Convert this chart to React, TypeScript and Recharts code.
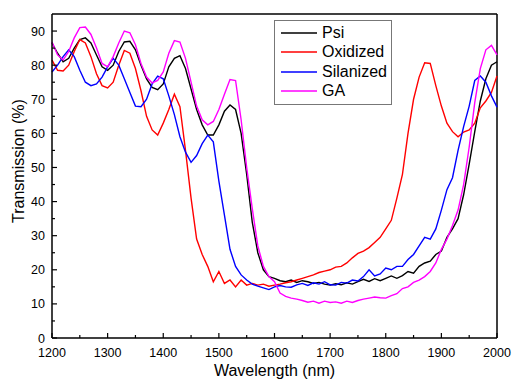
import React from "react";
import {
  LineChart,
  Line,
  XAxis,
  YAxis,
  Legend,
  ReferenceLine,
} from "recharts";

const wavelengths = [
  1200, 1210, 1220, 1230, 1240, 1250, 1260, 1270, 1280, 1290, 1300, 1310,
  1320, 1330, 1340, 1350, 1360, 1370, 1380, 1390, 1400, 1410, 1420, 1430,
  1440, 1450, 1460, 1470, 1480, 1490, 1500, 1510, 1520, 1530, 1540, 1550,
  1560, 1570, 1580, 1590, 1600, 1610, 1620, 1630, 1640, 1650, 1660, 1670,
  1680, 1690, 1700, 1710, 1720, 1730, 1740, 1750, 1760, 1770, 1780, 1790,
  1800, 1810, 1820, 1830, 1840, 1850, 1860, 1870, 1880, 1890, 1900, 1910,
  1920, 1930, 1940, 1950, 1960, 1970, 1980, 1990, 2000,
];

const psi = [
  86.5, 83.5, 81, 82, 85, 87.5, 88, 86.5, 83, 79.5, 78.5, 80,
  84, 86.8, 87, 84.5, 80, 76, 73.5, 72.8, 74.5, 79.5, 82, 82.8,
  79, 73, 67, 62.5, 59.5, 59.5, 62.5, 66.5, 68.3, 67, 60, 48,
  34, 25, 20, 18, 17.5, 16.8, 16.5, 17, 16.3, 16.8, 16.5, 16,
  16.3, 15.8, 15.5, 15.9, 15.6, 16.2, 15.8, 16.5, 17.2, 16.6, 17.4, 16.8,
  17.5, 18.2, 17.5, 18.3, 19.5, 19, 21, 22, 22.5, 24.5, 25.5, 29.5,
  32, 35, 42, 51, 60.5, 69.5, 76, 80, 81,
];

const oxidized = [
  81.5, 78.5, 78.3, 80, 84, 87.5, 86.5, 82.5, 77.5, 74, 73.3, 75,
  80, 84.3, 83.5, 79, 72.5, 65, 61, 59.5, 63, 67, 71.5, 67.8,
  55, 41, 29, 24.5, 21, 16.5, 19.5, 16, 17, 15, 17, 15.5,
  16, 15.5, 15.8, 15.2, 15.5, 15.8, 16.2, 16.5, 17, 17.5, 18, 18.5,
  19.2, 19.6, 20, 20.8, 21, 22, 23.5, 24.8, 25.5, 26.5, 28, 29.5,
  32, 34.5, 41, 48, 60, 70, 76.5, 80.7, 80.5, 74, 68, 63,
  60.5, 59, 60.4, 61, 63, 67.5, 69.5, 72, 76.8,
];

const silanized = [
  78, 80, 82.5, 84.5, 82.5, 78.5, 75, 74, 74.5, 76.5, 79.5, 82,
  80, 76, 72, 68, 67.8, 70, 74.5, 76.8, 76, 71, 65.5, 59,
  54.5, 51.5, 53.5, 57, 59.5, 57.5, 46, 36, 26, 21, 18.5, 17,
  15.8, 15.2, 14.7, 14.2, 15, 15.4, 15, 14.9, 15.6, 16, 15.4, 16.2,
  15.8, 16.5, 15.6, 15.5, 16.3, 16.1, 17, 16.7, 18, 20, 18.2, 18.8,
  20.5, 20, 21, 21, 23, 24.5, 27, 29.5, 29, 32, 37.5, 43.5,
  47, 55, 62, 68, 75.5, 76.8, 75, 71, 67.7,
];

const ga = [
  86.8, 83, 81.5, 84, 88, 91, 91.2, 89, 85, 80.5, 79.5, 82.5,
  86.5, 90, 89.5, 86, 80.5, 76.5, 74.8, 75.5, 78, 83.5, 87.2, 86.8,
  82, 75, 68, 64, 62.5, 63.5, 67, 71.5, 75.8, 75.5, 64, 50,
  38, 27, 21, 18, 16.5, 13.2, 12.2, 11.7, 11.4, 11, 10.5, 10.8,
  10.2, 10.8, 10.4, 10.6, 10.2, 10.8, 10.4, 11, 11.4, 11.7, 12, 11.8,
  11.7, 12.4, 13, 14.5, 15, 16.3, 17, 18, 19.5, 22, 26, 29,
  33, 37.5, 45, 56, 69, 79, 84.5, 85.8, 83,
];

const xTicks = [
  1200, 1250, 1300, 1350, 1400, 1450, 1500, 1550, 1600, 1650, 1700, 1750,
  1800, 1850, 1900, 1950, 2000,
];
const yTicks = [0, 5, 10, 15, 20, 25, 30, 35, 40, 45, 50, 55, 60, 65, 70, 75, 80, 85, 90];

const SERIES = [
  { key: "psi", name: "Psi", color: "#000000", values: psi },
  { key: "oxidized", name: "Oxidized", color: "#ff0000", values: oxidized },
  { key: "silanized", name: "Silanized", color: "#0000ff", values: silanized },
  { key: "ga", name: "GA", color: "#ff00ff", values: ga },
];

const rows = wavelengths.map((w, i) => {
  const row: Record<string, number> = { w };
  SERIES.forEach((s) => {
    row[s.key] = s.values[i];
  });
  return row;
});

const FONT = "Arial, 'Liberation Sans', sans-serif";

// ticks point into the plot, minor ones unlabeled
const XTick = (props: any) => {
  const { x, y, payload } = props;
  const major = payload.value % 100 === 0;
  return (
    <g>
      <line x1={x} x2={x} y1={y} y2={y - (major ? 5 : 3)} stroke="#000" strokeWidth={1.2} />
      {major && (
        <text x={x} y={y + 18.5} textAnchor="middle" fontSize={12.5} fontFamily={FONT} fill="#000">
          {payload.value}
        </text>
      )}
    </g>
  );
};

const YTick = (props: any) => {
  const { x, y, payload } = props;
  const major = payload.value % 10 === 0;
  return (
    <g>
      <line x1={x} x2={x + (major ? 5 : 3)} y1={y} y2={y} stroke="#000" strokeWidth={1.2} />
      {major && (
        <text x={x - 7} y={y + 4.5} textAnchor="end" fontSize={12.5} fontFamily={FONT} fill="#000">
          {payload.value}
        </text>
      )}
    </g>
  );
};

const XLabel = (props: any) => {
  const vb = props.viewBox || {};
  const cx = (vb.x ?? 52) + (vb.width ?? 445) / 2;
  return (
    <text x={cx} y={376} textAnchor="middle" fontSize={16} fontFamily={FONT} fill="#000">
      Wavelength (nm)
    </text>
  );
};

const YLabel = (props: any) => {
  const vb = props.viewBox || {};
  const cy = (vb.y ?? 14) + (vb.height ?? 324) / 2 - 15;
  return (
    <text
      x={24}
      y={cy}
      transform={`rotate(-90, 24, ${cy})`}
      textAnchor="middle"
      fontSize={16}
      fontFamily={FONT}
      fill="#000"
    >
      Transmission (%)
    </text>
  );
};

const LegendBox = () => (
  <div
    style={{
      border: "1px solid #777",
      background: "#fff",
      width: 116,
      padding: "2px 0 3px 0",
      fontFamily: FONT,
      fontSize: 16,
    }}
  >
    {SERIES.map((s) => (
      <div key={s.key} style={{ display: "flex", alignItems: "center", height: 19.5 }}>
        <svg width={36} height={4} style={{ marginLeft: 6, marginRight: 5 }}>
          <line x1={0} x2={36} y1={2} y2={2} stroke={s.color} strokeWidth={1.5} />
        </svg>
        <span style={{ color: "#000" }}>{s.name}</span>
      </div>
    ))}
  </div>
);

export default function App() {
  return (
    <div style={{ position: "absolute", left: 0, top: 0, background: "#fff" }}>
      <LineChart
        width={512}
        height={379}
        data={rows}
        margin={{ top: 14, right: 15, bottom: 0, left: 0 }}
      >
        <XAxis
          dataKey="w"
          type="number"
          domain={[1200, 2000]}
          ticks={xTicks}
          interval={0}
          height={41}
          tickSize={0}
          tickMargin={0}
          tickLine={false}
          tick={<XTick />}
          axisLine={{ stroke: "#000", strokeWidth: 1.5 }}
          label={XLabel}
        />
        <YAxis
          type="number"
          domain={[0, 95]}
          ticks={yTicks}
          interval={0}
          width={52}
          tickSize={0}
          tickMargin={0}
          tickLine={false}
          tick={<YTick />}
          axisLine={{ stroke: "#000", strokeWidth: 1.5 }}
          label={YLabel}
        />
        <ReferenceLine y={95} stroke="#000" strokeWidth={1.5} />
        <ReferenceLine x={2000} stroke="#000" strokeWidth={1.5} />
        {SERIES.map((s) => (
          <Line
            key={s.key}
            type="linear"
            dataKey={s.key}
            name={s.name}
            stroke={s.color}
            strokeWidth={1.4}
            dot={false}
            isAnimationActive={false}
          />
        ))}
        <Legend
          layout="vertical"
          align="center"
          verticalAlign="middle"
          content={<LegendBox />}
          wrapperStyle={{ left: 274, top: 20, width: 118 }}
        />
      </LineChart>
    </div>
  );
}
